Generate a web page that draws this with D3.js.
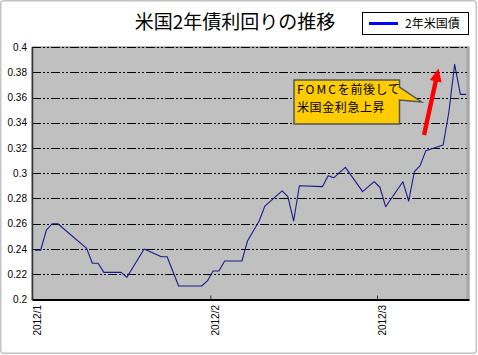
<!DOCTYPE html>
<html><head><meta charset="utf-8">
<script src="https://cdn.jsdelivr.net/npm/d3@7"></script>
<style>
html,body{margin:0;padding:0;background:#fff;}
svg{display:block;}
</style></head>
<body>
<svg id="c" width="478" height="355"></svg>
<script>
// ---- data ----
const title = "米国2年債利回りの推移";
const seriesName = "2年米国債";
const dates = ["2012-01-01","2012-01-02","2012-01-03","2012-01-04","2012-01-05","2012-01-10","2012-01-11","2012-01-12","2012-01-13","2012-01-16","2012-01-17","2012-01-20","2012-01-23","2012-01-24","2012-01-26","2012-01-30","2012-01-31","2012-02-01","2012-02-02","2012-02-03","2012-02-06","2012-02-07","2012-02-09","2012-02-10","2012-02-13","2012-02-14","2012-02-15","2012-02-16","2012-02-20","2012-02-21","2012-02-22","2012-02-24","2012-02-27","2012-02-29","2012-03-01","2012-03-02","2012-03-05","2012-03-06","2012-03-07","2012-03-08","2012-03-09","2012-03-12","2012-03-13","2012-03-14","2012-03-15","2012-03-16"];
const yields = [0.239,0.239,0.255,0.260,0.260,0.2405,0.2287,0.2287,0.2215,0.2215,0.2176,0.240,0.2339,0.2339,0.2107,0.2107,0.2147,0.2226,0.2226,0.2305,0.2305,0.2466,0.2622,0.274,0.286,0.2814,0.2622,0.2901,0.2894,0.298,0.2965,0.3047,0.2854,0.2933,0.2889,0.2735,0.2933,0.278,0.3012,0.306,0.3179,0.3224,0.3485,0.3863,0.3625,0.3625];
const yTickValues = [0.2,0.22,0.24,0.26,0.28,0.3,0.32,0.34,0.36,0.38,0.4];
const yTickLabels = ["0.2","0.22","0.24","0.26","0.28","0.3","0.32","0.34","0.36","0.38","0.4"];
const xTickDates = ["2012-01-01","2012-02-01","2012-03-01"];
const xTickLabels = ["2012/1","2012/2","2012/3"];
const xDomain = ["2012-01-01","2012-03-17"];
const calloutLine1 = ["FOMC","を前後して"];
const calloutLine2 = "米国金利急上昇";

// ---- layout ----
const parse = d3.utcParse("%Y-%m-%d");
const L = 32, R = 469, T = 47, B = 299.5;
const svg = d3.select("#c");
const font = "'Liberation Sans', Arial, sans-serif";
const cjk = "'Noto Sans CJK JP', sans-serif";

// chart area border
svg.append("rect").attr("x",0.75).attr("y",0.75).attr("width",475.5).attr("height",352.5)
  .attr("rx",3).attr("fill","#fff").attr("stroke","#c4c4c4").attr("stroke-width",1.5);

const x = d3.scaleUtc().domain(xDomain.map(parse)).range([L,R]);
const y = d3.scaleLinear().domain([0.2,0.4]).range([B,T]);
const half = 12*3600*1000;

// plot area
svg.append("rect").attr("x",L).attr("y",T).attr("width",R-L).attr("height",B-T)
  .attr("fill","#c0c0c0").attr("stroke","#808080").attr("stroke-width",1);
svg.append("line").attr("x1",R-1.5).attr("x2",R-1.5).attr("y1",T).attr("y2",B)
  .attr("stroke","#a8a8a8").attr("stroke-width",2);

// gridlines
svg.append("g").selectAll("line").data(yTickValues.slice(1))
  .join("line")
  .attr("x1",L).attr("x2",R-1).attr("y1",d=>Math.round(y(d))+0.5).attr("y2",d=>Math.round(y(d))+0.5)
  .attr("stroke","#000").attr("stroke-width",1).attr("stroke-dasharray","9,2,2,2,2,2");

// y axis
const yAxis = d3.axisLeft(y).tickValues(yTickValues)
  .tickFormat((d,i)=>yTickLabels[i]).tickSize(0).tickPadding(5);
const gy = svg.append("g").attr("transform",`translate(${L},0)`).call(yAxis);
gy.select(".domain").attr("stroke","#333").attr("stroke-width",1.5);
gy.selectAll("text").attr("font-family",font).attr("font-size",10).attr("fill","#000");

// x axis
const xAxis = d3.axisBottom(x).tickValues(xTickDates.map(parse))
  .tickFormat((d,i)=>xTickLabels[i]).tickSizeInner(-4).tickSizeOuter(0).tickPadding(0);
const gx = svg.append("g").attr("transform",`translate(0,${B})`).call(xAxis);
gx.select(".domain").attr("stroke","#000").attr("stroke-width",2);
gx.selectAll(".tick line").attr("stroke","#333");
gx.selectAll("text").attr("font-family",font).attr("font-size",10).attr("fill","#000")
  .attr("text-anchor","end").attr("dy",null).attr("y",0)
  .attr("transform","translate(8,5.5) rotate(-90)");

// data line
const line = d3.line().x(d=>x(d.date.getTime()+half)).y(d=>y(d.v));
const data = dates.map((d,i)=>({date:parse(d), v:yields[i]}));
svg.append("path").datum(data).attr("d",line).attr("fill","none")
  .attr("stroke","#1a1a8c").attr("stroke-width",1.1).attr("stroke-linejoin","round");

// title
svg.append("text").attr("x",235).attr("y",29).attr("text-anchor","middle")
  .attr("font-family",cjk).attr("font-size",19).attr("fill","#000").text(title);

// legend
svg.append("rect").attr("x",362.5).attr("y",12.5).attr("width",106).attr("height",22)
  .attr("fill","#fff").attr("stroke","#000").attr("stroke-width",1);
svg.append("line").attr("x1",369).attr("x2",398).attr("y1",23.5).attr("y2",23.5)
  .attr("stroke","#0000ff").attr("stroke-width",3);
svg.append("text").attr("x",405).attr("y",28).attr("font-family",cjk).attr("font-size",12)
  .attr("fill","#000").text(seriesName);

// callout
const cg = svg.append("g");
cg.append("path")
  .attr("d","M294,80 L399.5,80 L399.5,87 L421.5,102 L399.5,100 L399.5,124 L294,124 Z")
  .attr("fill","#ffcc00").attr("stroke","#555").attr("stroke-width",1.5).attr("stroke-linejoin","miter");
const t1 = cg.append("text").attr("x",297).attr("y",94)
  .attr("font-family",cjk).attr("font-size",12).attr("fill","#000");
t1.append("tspan").attr("letter-spacing",2).text(calloutLine1[0]);
t1.append("tspan").attr("letter-spacing",0.6).text(calloutLine1[1]);
cg.append("text").attr("x",297).attr("y",111.5)
  .attr("font-family",cjk).attr("font-size",12).attr("letter-spacing",0.6)
  .attr("fill","#000").text(calloutLine2);

// red arrow
const ax1 = 424, ay1 = 135, ax2 = 438.5, ay2 = 68.5;
const ang = Math.atan2(ay2-ay1, ax2-ax1);
const hl = 13, hw = 6, sw = 2.2;
const px = -Math.sin(ang), py = Math.cos(ang);
const bx = ax2 - hl*Math.cos(ang), by = ay2 - hl*Math.sin(ang);
const pts = [
  [ax1+px*sw, ay1+py*sw],[bx+px*sw, by+py*sw],[bx+px*hw, by+py*hw],[ax2,ay2],
  [bx-px*hw, by-py*hw],[bx-px*sw, by-py*sw],[ax1-px*sw, ay1-py*sw]
];
svg.append("path").attr("d","M"+pts.map(p=>p.join(",")).join("L")+"Z").attr("fill","#ff0000");
</script>
</body></html>
